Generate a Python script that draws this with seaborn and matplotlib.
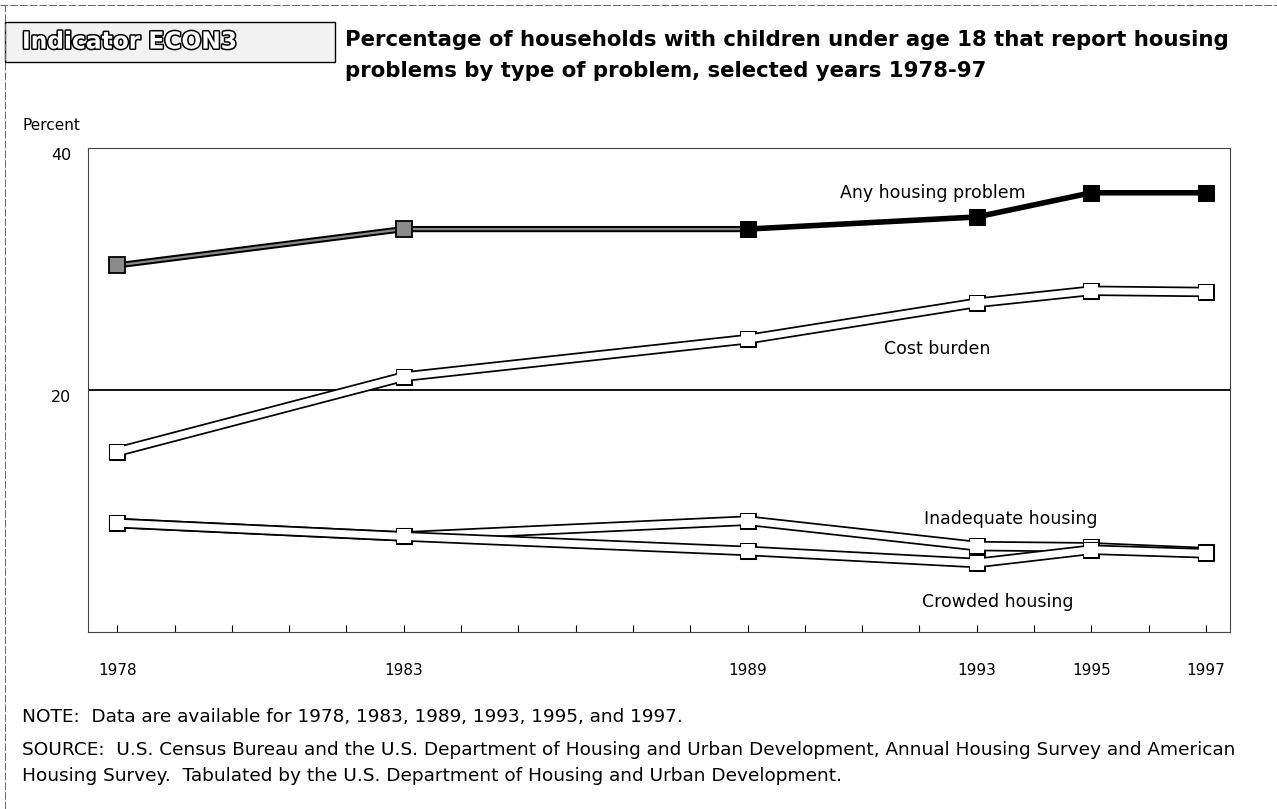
import pandas as pd
import seaborn as sns
import matplotlib.pyplot as plt
import matplotlib.patheffects as pe
from matplotlib.lines import Line2D
from matplotlib.patches import Rectangle

# data (percent)
years = [1978, 1983, 1989, 1993, 1995, 1997]
any_problem = [30.3, 33.3, 33.3, 34.3, 36.3, 36.3]
cost_burden = [14.9, 21.1, 24.2, 27.2, 28.2, 28.1]
inadequate = [9.0, 7.9, 9.2, 7.1, 7.0, 6.6]
crowded = [9.0, 7.9, 6.7, 5.7, 6.8, 6.5]

sns.set_style("white")
plt.rcParams['font.family'] = ['DejaVu Sans']
plt.rcParams['text.color'] = 'black'
plt.rcParams['xtick.color'] = 'black'
plt.rcParams['ytick.color'] = 'black'

fig = plt.figure(figsize=(12.77, 8.09), dpi=100)
ax = fig.add_axes([88 / 1277, 1 - 632 / 809, (1230 - 88) / 1277, (632 - 148) / 809])

# reference line at 20
ax.axhline(20, color='black', lw=1.3, zorder=1)


def double_line(x, y, z):
    # black outline, white core, squares merged into the line
    sns.lineplot(x=x, y=y, ax=ax, color='black', lw=7.5, marker='s', markersize=12,
                 markerfacecolor='black', markeredgecolor='black', zorder=z)
    sns.lineplot(x=x, y=y, ax=ax, color='white', lw=5.0, marker='s', markersize=9.6,
                 markerfacecolor='white', markeredgewidth=0, zorder=z + 0.5)


double_line(years, inadequate, 3)
double_line(years, crowded, 4)
double_line(years, cost_burden, 5)

# any housing problem: gray core in the early years, solid black later
sns.lineplot(x=years[:3], y=any_problem[:3], ax=ax, color='black', lw=4.5, zorder=6)
sns.lineplot(x=years[:3], y=any_problem[:3], ax=ax, color='#8a8a8a', lw=1.6, zorder=6.5)
sns.lineplot(x=years[2:], y=any_problem[2:], ax=ax, color='black', lw=4.0, zorder=6)
sns.lineplot(x=years[:2], y=any_problem[:2], ax=ax, lw=0, marker='s', markersize=11.5,
             markerfacecolor='#8a8a8a', markeredgecolor='black', markeredgewidth=1.3, zorder=7)
sns.lineplot(x=years[2:], y=any_problem[2:], ax=ax, lw=0, marker='s', markersize=11.5,
             markerfacecolor='black', markeredgecolor='black', zorder=7)

ax.set_xlim(1977.49, 1997.42)
ax.set_ylim(0, 40)
ax.set_xticks(years)
ax.set_xticks(range(1978, 1998), minor=True)
ax.set_xticklabels([str(y) for y in years], fontsize=11)
ax.set_yticks([20, 40])
ax.set_yticklabels(['20', '40'], fontsize=11.5)
for lab in ax.get_yticklabels():
    lab.set_verticalalignment('top')
ax.tick_params(axis='x', which='both', direction='in', length=5, width=0.8,
               color='black', pad=22, bottom=True)
ax.tick_params(axis='y', length=0, pad=12)
ax.set_xlabel('')
ax.set_ylabel('')
for sp in ax.spines.values():
    sp.set_color('#444444')
    sp.set_linewidth(0.8)
    sp.set_linestyle((0, (6, 1)))

# series labels
ax.text(1992.24, 36.3, 'Any housing problem', fontsize=12.5, ha='center', va='center')
ax.text(1992.31, 23.4, 'Cost burden', fontsize=12.5, ha='center', va='center')
ax.text(1993.6, 9.3, 'Inadequate housing', fontsize=12.5, ha='center', va='center')
ax.text(1993.36, 2.5, 'Crowded housing', fontsize=12.5, ha='center', va='center')

# page border
fig.add_artist(Line2D([0, 1], [1 - 5 / 809, 1 - 5 / 809], transform=fig.transFigure,
                      color='#666666', lw=0.7, ls=(0, (8, 2))))
fig.add_artist(Line2D([5 / 1277, 5 / 1277], [0, 1 - 5 / 809], transform=fig.transFigure,
                      color='#666666', lw=0.7, ls=(0, (8, 2))))

# indicator box
fig.add_artist(Rectangle((5 / 1277, 1 - 62 / 809), 330 / 1277, 40 / 809,
                         transform=fig.transFigure, facecolor='#f2f2f2',
                         edgecolor='black', lw=1.0))
fig.text(22 / 1277, 1 - 42 / 809, 'Indicator ECON3', fontsize=16.8, fontweight='bold',
         color='white', va='center', ha='left',
         path_effects=[pe.withStroke(linewidth=2.2, foreground='black')])

fig.text(345 / 1277, 1 - 40 / 809,
         'Percentage of households with children under age 18 that report housing',
         fontsize=15.3, fontweight='bold', va='center', ha='left')
fig.text(345 / 1277, 1 - 71 / 809,
         'problems by type of problem, selected years 1978-97',
         fontsize=15.3, fontweight='bold', va='center', ha='left')

fig.text(22 / 1277, 1 - 125 / 809, 'Percent', fontsize=11, va='center', ha='left')

fig.text(22 / 1277, 1 - 717 / 809,
         'NOTE:  Data are available for 1978, 1983, 1989, 1993, 1995, and 1997.',
         fontsize=13.3, va='center', ha='left')
fig.text(22 / 1277, 1 - 750 / 809,
         'SOURCE:  U.S. Census Bureau and the U.S. Department of Housing and Urban Development, '
         'Annual Housing Survey and American',
         fontsize=13.3, va='center', ha='left')
fig.text(22 / 1277, 1 - 776 / 809,
         'Housing Survey.  Tabulated by the U.S. Department of Housing and Urban Development.',
         fontsize=13.3, va='center', ha='left')

fig.savefig('out.png', dpi=100)
plt.close(fig)
